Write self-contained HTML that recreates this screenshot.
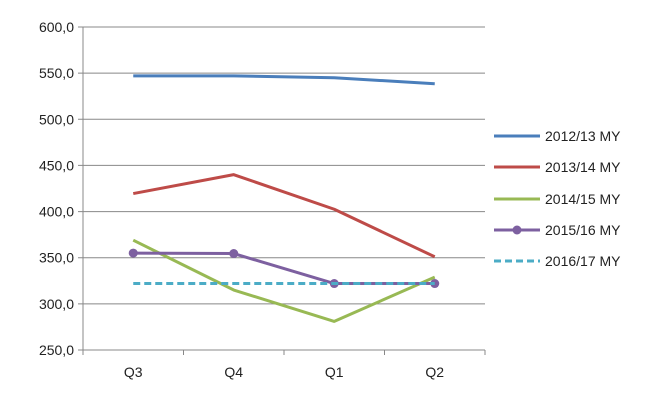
<!DOCTYPE html>
<html><head><meta charset="utf-8"><style>
body{margin:0;background:#fff;font-family:"Liberation Sans",sans-serif;}
svg text{font-family:"Liberation Sans",sans-serif;font-size:14px;fill:#222;}
</style></head><body>
<svg width="669" height="403">
<g id="grid"></g><g id="series"></g><g id="legend"></g>
</svg>
<script>
const categories=["Q3","Q4","Q1","Q2"];
const yTicks=[250,300,350,400,450,500,550,600];
const seriesNames=["2012/13 MY","2013/14 MY","2014/15 MY","2015/16 MY","2016/17 MY"];
const s1213=[547,547,545,538.5];
const s1314=[419.5,440,402.5,351];
const s1415=[369,315,281,329];
const s1516=[355,354.5,322,322];
const s1617=[322,322,322,322];
const colors=["#4a7ebb","#be4b48","#98b954","#7d60a0","#4bacc6"];
const NS="http://www.w3.org/2000/svg";
const L=83,R=485,T=27,B=350,ymin=250,ymax=600;
const y=v=>B-(v-ymin)/(ymax-ymin)*(B-T);
const cw=(R-L)/categories.length;
const x=i=>L+cw*(i+0.5);
function mk(t,a,p){const e=document.createElementNS(NS,t);for(const k in a)e.setAttribute(k,a[k]);p.appendChild(e);return e;}
const grid=document.getElementById('grid');
yTicks.forEach(v=>{
 const l=mk('line',{x1:L-5,x2:R,y1:y(v),y2:y(v),stroke:'#888','stroke-width':1},grid);
 
 
 const t=mk('text',{x:L-9,y:y(v)+5,'text-anchor':'end'},grid);t.textContent=v.toFixed(1).replace('.',',');
 
 
});
mk('line',{x1:L,x2:L,y1:T,y2:B+5,stroke:'#888'},grid);
for(let i=1;i<=categories.length;i++){mk('line',{x1:L+cw*i,x2:L+cw*i,y1:B,y2:B+5,stroke:'#888'},grid);}
categories.forEach((c,i)=>{const t=mk('text',{x:x(i),y:377,'text-anchor':'middle'},grid);t.textContent=c;
 
 });
const sg=document.getElementById('series');
const data=[s1213,s1314,s1415,s1516,s1617];
data.forEach((d,k)=>{
 const p=mk('polyline',{points:d.map((v,i)=>x(i)+','+y(v)).join(' '),fill:'none',stroke:colors[k],'stroke-width':3,'stroke-linejoin':'round'},sg);
 if(k==4)p.setAttribute('stroke-dasharray','7,4');
 
 
 if(k==3)d.forEach((v,i)=>{const c=mk('circle',{cx:x(i),cy:y(v),r:4.5,fill:colors[3]},sg);
  
  });
});
const lg=document.getElementById('legend');
const ly=[136,167,199,230,261];
seriesNames.forEach((n,k)=>{
 const l=mk('line',{x1:494,x2:540,y1:ly[k],y2:ly[k],stroke:colors[k],'stroke-width':3},lg);
 if(k==4)l.setAttribute('stroke-dasharray','7,4');
 if(k==3)mk('circle',{cx:517,cy:ly[k],r:4.5,fill:colors[3]},lg);
 const t=mk('text',{x:545,y:ly[k]+5},lg);t.textContent=n;
 
 
});
</script>
</body></html>
